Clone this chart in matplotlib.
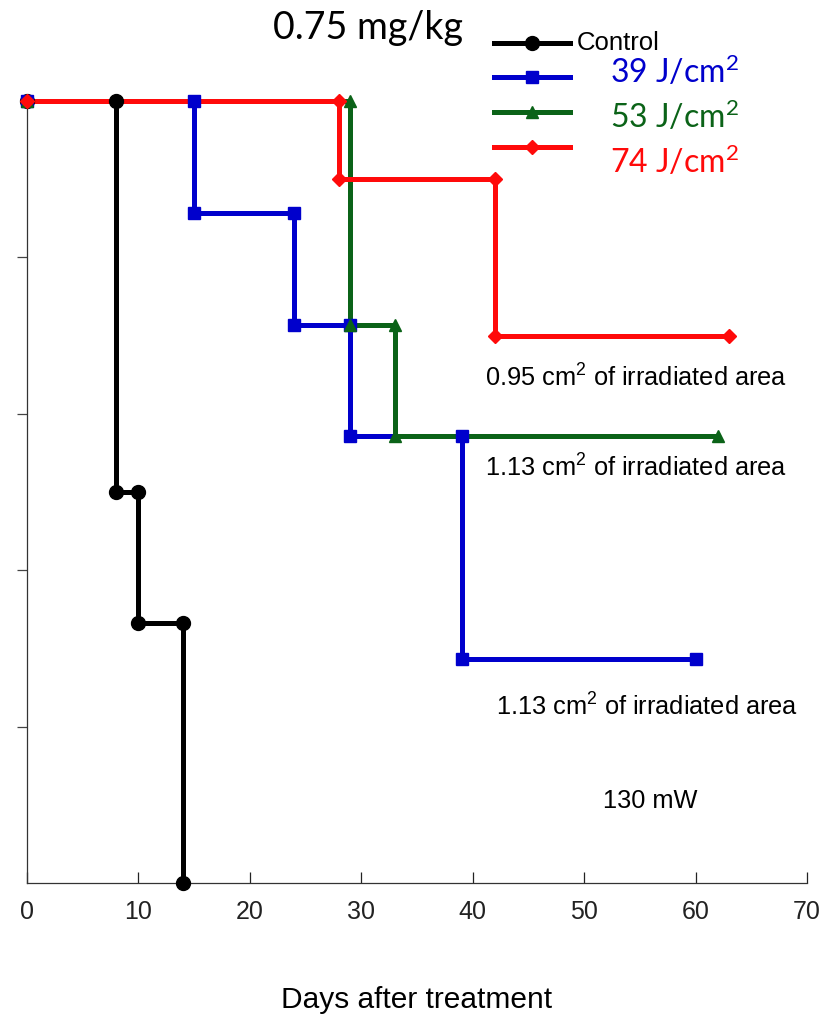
import numpy as np
import matplotlib.pyplot as plt
from matplotlib.lines import Line2D

plt.rcParams['font.family'] = ['Liberation Sans', 'DejaVu Sans']
plt.rcParams['mathtext.fontset'] = 'custom'
plt.rcParams['mathtext.rm'] = 'Liberation Sans'

# event days and survival (%) after each event, per group
ctrl_days = [8, 10, 14]
ctrl_surv = [50.0, 33.3, 0.0]
ctrl_end = 14

j39_days = [15, 24, 29, 39]
j39_surv = [85.7, 71.4, 57.1, 28.6]
j39_end = 60

j53_days = [29, 33]
j53_surv = [71.4, 57.1]
j53_end = 62

j74_days = [28, 42]
j74_surv = [90.0, 70.0]
j74_end = 63

groups = [
    ('Control', ctrl_days, ctrl_surv, ctrl_end, 'black', 'o', 10),
    (r'39 J/cm$\mathregular{^2}$', j39_days, j39_surv, j39_end, '#0000cc', 's', 9),
    (r'53 J/cm$\mathregular{^2}$', j53_days, j53_surv, j53_end, '#0b6318', '^', 9),
    (r'74 J/cm$\mathregular{^2}$', j74_days, j74_surv, j74_end, '#ff0a0a', 'D', 7),
]

notes = [
    (41.1, 64.6, r'0.95 cm$^2$ of irradiated area'),
    (41.1, 53.1, r'1.13 cm$^2$ of irradiated area'),
    (42.1, 22.5, r'1.13 cm$^2$ of irradiated area'),
    (51.7, 10.5, '130 mW'),
]


def corners(days, surv, end):
    # vertices of a Kaplan-Meier style step curve starting at 100%
    xs, ys = [0], [100.0]
    level = 100.0
    for d, s in zip(days, surv):
        xs += [d, d]
        ys += [level, s]
        level = s
    if end > xs[-1]:
        xs.append(end)
        ys.append(level)
    return np.array(xs), np.array(ys)


fig = plt.figure(figsize=(8.26, 10.17), dpi=100)
ax = fig.add_axes([0.0327, 0.1318, 0.977 - 0.0327, 0.9007 - 0.1318])

for i, (name, days, surv, end, col, mk, ms) in enumerate(groups):
    xs, ys = corners(days, surv, end)
    ax.plot(xs, ys, color=col, lw=3.6, zorder=2 + i * 0.1, clip_on=False)
    ax.plot(xs, ys, ls='none', marker=mk, ms=ms, color=col,
            zorder=4 + i * 0.1, clip_on=False)

ax.set_xlim(0, 70)
ax.set_ylim(0, 100)
ax.set_xticks(np.arange(0, 71, 10))
ax.set_yticks([20, 40, 60, 80])
ax.set_yticklabels([])
ax.tick_params(axis='x', direction='in', length=8, width=0.9,
               labelsize=18, pad=12, colors='#222222')
ax.tick_params(axis='y', direction='out', length=7, width=0.9,
               colors='#444444')
for side in ['top', 'right']:
    ax.spines[side].set_visible(False)
for side in ['left', 'bottom']:
    ax.spines[side].set_linewidth(0.9)
    ax.spines[side].set_color('#333333')

ax.set_xlabel('Days after treatment', fontsize=21.5, labelpad=45)

for x, y, s in notes:
    ax.text(x, y, s, fontsize=18.3, ha='left', va='center')

fig.text(0.4455, 0.972, '0.75 mg/kg', fontsize=27, family='Lato',
         ha='center', va='center')

# legend keys drawn in figure space
key_x0, key_x1 = 494 / 826, 570 / 826
key_rows = [43, 77, 112, 147]
label_rows = [43, 72, 117, 162]
for (name, days, surv, end, col, mk, ms), ry, ly in zip(groups, key_rows, label_rows):
    yf = 1 - ry / 1017
    fig.add_artist(Line2D([key_x0, key_x1], [yf, yf], color=col, lw=3.6,
                          transform=fig.transFigure))
    fig.add_artist(Line2D([(key_x0 + key_x1) / 2], [yf], color=col,
                          marker=mk, ms=ms, ls='none',
                          transform=fig.transFigure))
    if name == 'Control':
        fig.text(577 / 826, 1 - ly / 1017, name, fontsize=18.5,
                 ha='left', va='center')
    else:
        fig.text(610 / 826, 1 - ly / 1017, name, fontsize=23, family='Lato',
                 color=col, ha='left', va='center')

fig.savefig('out.png', dpi=100)
